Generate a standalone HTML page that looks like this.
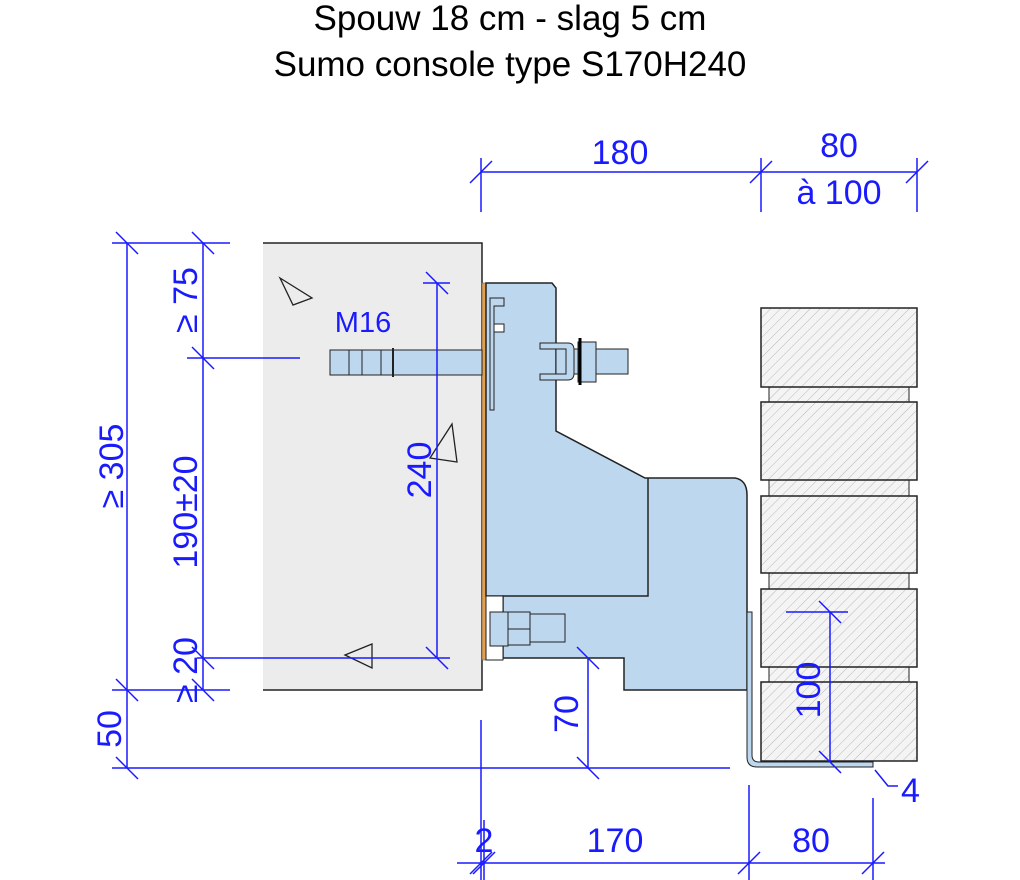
<!DOCTYPE html>
<html><head><meta charset="utf-8"><style>
html,body{margin:0;padding:0;background:#fff;}
svg{display:block;}
text{font-family:"Liberation Sans","DejaVu Sans",sans-serif;}
</style></head><body>
<svg width="1020" height="880" viewBox="0 0 1020 880" xmlns="http://www.w3.org/2000/svg">
<defs>
<pattern id="h" width="7" height="7" patternUnits="userSpaceOnUse" patternTransform="rotate(45)">
<rect width="7" height="7" fill="#f4f4f4"/><line x1="0" y1="0" x2="0" y2="7" stroke="#b8b8b8" stroke-width="1"/>
</pattern>
</defs>
<text x="510" y="30" font-size="35" text-anchor="middle" fill="#000">Spouw 18 cm - slag 5 cm</text>
<text x="510" y="76" font-size="35" text-anchor="middle" fill="#000">Sumo console type S170H240</text>

<rect x="263" y="243" width="219" height="447" fill="#ececec"/>
<path d="M263 243 H482 V690 H263" fill="none" stroke="#222" stroke-width="1.5"/>
<rect x="482" y="283" width="4" height="377" fill="#e0a050" stroke="#555" stroke-width="0.5"/>

<path d="M486 283 H552 L556 288 V431 L645 478 H735 Q747 480 747 495 V690 H624 V658 H503 V596 H486 Z" fill="#bdd7ee" stroke="#222" stroke-width="1.5"/>
<path d="M503 596 H648 V478" fill="none" stroke="#222" stroke-width="1.5"/>
<rect x="486" y="596" width="17" height="64" fill="#fff" stroke="#222" stroke-width="1"/>
<path d="M490 298 H504 V306 H494 V410 H490 Z" fill="#bdd7ee" stroke="#222" stroke-width="1"/>
<rect x="494" y="324" width="10" height="8" fill="#fff" stroke="#222" stroke-width="1"/>

<rect x="330" y="350" width="152" height="25" fill="#bdd7ee" stroke="#222" stroke-width="1"/>
<line x1="349" y1="350" x2="349" y2="375" stroke="#222"/><line x1="362" y1="350" x2="362" y2="375" stroke="#222"/><line x1="381" y1="350" x2="381" y2="375" stroke="#222"/><line x1="393" y1="348" x2="393" y2="377" stroke="#222" stroke-width="2"/>
<rect x="556" y="349" width="72" height="25" fill="#bdd7ee" stroke="#222" stroke-width="1"/>
<path d="M540 343 H568 Q574 343 574 350 V373 Q574 380 568 380 H540 V374 H566 V349 H540 Z" fill="#bdd7ee" stroke="#222" stroke-width="1"/>
<rect x="578" y="342" width="18" height="40" fill="#bdd7ee" stroke="#222" stroke-width="1"/>
<line x1="580" y1="338" x2="580" y2="385" stroke="#000" stroke-width="3"/>

<rect x="490" y="612" width="18" height="34" fill="#bdd7ee" stroke="#222"/>
<rect x="508" y="614" width="57" height="28" fill="#bdd7ee" stroke="#222"/>
<rect x="508" y="612" width="22" height="33" fill="#bdd7ee" stroke="#222"/>
<line x1="508" y1="629" x2="530" y2="629" stroke="#222"/>

<path d="M747 612 H752 V755 Q752 762 759 762 H873 V767 H757 Q747 767 747 757 Z" fill="#bdd7ee" stroke="#222" stroke-width="1"/>

<g stroke="#222" stroke-width="1.5" fill="url(#h)">
<rect x="769" y="387" width="140" height="15" stroke-width="1"/>
<rect x="769" y="480" width="140" height="16" stroke-width="1"/>
<rect x="769" y="573" width="140" height="16" stroke-width="1"/>
<rect x="769" y="667" width="140" height="15" stroke-width="1"/>
<rect x="761" y="308" width="156" height="79"/>
<rect x="761" y="402" width="156" height="78"/>
<rect x="761" y="496" width="156" height="77"/>
<rect x="761" y="589" width="156" height="78"/>
<rect x="761" y="682" width="156" height="79"/>
</g>

<g fill="none" stroke="#222" stroke-width="1.3">
<path d="M280 278 L312 298 L293 305 Z"/>
<path d="M452 424 L457 462 L430 458 Z"/>
<path d="M345 655 L372 644 L372 668 Z"/>
</g>

<g stroke="#1a1aff" stroke-width="1.5" fill="none">
<line x1="481" y1="172" x2="917" y2="172"/>
<line x1="481" y1="158" x2="481" y2="212"/><line x1="761" y1="158" x2="761" y2="212"/><line x1="917" y1="158" x2="917" y2="212"/>
<line x1="470" y1="183" x2="492" y2="161"/><line x1="750" y1="183" x2="772" y2="161"/><line x1="906" y1="183" x2="928" y2="161"/>
<line x1="127" y1="243" x2="127" y2="768"/>
<line x1="203" y1="243" x2="203" y2="690"/>
<line x1="112" y1="243" x2="230" y2="243"/>
<line x1="187" y1="358" x2="300" y2="358"/>
<line x1="197" y1="658" x2="450" y2="658"/>
<line x1="112" y1="690" x2="230" y2="690"/>
<line x1="112" y1="768" x2="730" y2="768"/>
<line x1="116" y1="232" x2="138" y2="254"/><line x1="192" y1="232" x2="214" y2="254"/>
<line x1="192" y1="347" x2="214" y2="369"/><line x1="192" y1="647" x2="214" y2="669"/>
<line x1="116" y1="679" x2="138" y2="701"/><line x1="192" y1="679" x2="214" y2="701"/>
<line x1="116" y1="757" x2="138" y2="779"/>
<line x1="437" y1="283" x2="437" y2="658"/>
<line x1="423" y1="283" x2="450" y2="283"/>
<line x1="426" y1="272" x2="448" y2="294"/><line x1="426" y1="647" x2="448" y2="669"/>
<line x1="588" y1="658" x2="588" y2="768"/>
<line x1="577" y1="647" x2="599" y2="669"/><line x1="577" y1="757" x2="599" y2="779"/>
<line x1="830" y1="612" x2="830" y2="762"/>
<line x1="786" y1="612" x2="848" y2="612"/>
<line x1="819" y1="601" x2="841" y2="623"/><line x1="819" y1="751" x2="841" y2="773"/>
<line x1="457" y1="863" x2="885" y2="863"/>
<line x1="481" y1="720" x2="481" y2="880"/><line x1="484" y1="820" x2="484" y2="880"/>
<line x1="749" y1="785" x2="749" y2="880"/><line x1="873" y1="798" x2="873" y2="880"/>
<line x1="470" y1="874" x2="492" y2="852"/><line x1="473" y1="874" x2="495" y2="852"/>
<line x1="738" y1="874" x2="760" y2="852"/><line x1="862" y1="874" x2="884" y2="852"/>
<path d="M875 770 L888 786 H898"/>
</g>

<g fill="#1a1aff" font-size="34">
<text x="620" y="164" text-anchor="middle">180</text>
<text x="839" y="157" text-anchor="middle">80</text>
<text x="839" y="204" text-anchor="middle">à 100</text>
<text x="363" y="332" text-anchor="middle" font-size="29">M16</text>
<text x="901" y="802">4</text>
<text x="484" y="852" text-anchor="middle">2</text>
<text x="615" y="852" text-anchor="middle">170</text>
<text x="811" y="852" text-anchor="middle">80</text>
<text transform="translate(123,466) rotate(-90)" text-anchor="middle">≥ 305</text>
<text transform="translate(197,512) rotate(-90)" text-anchor="middle">190±20</text>
<text transform="translate(197,300) rotate(-90)" text-anchor="middle">≥ 75</text>
<text transform="translate(197,670) rotate(-90)" text-anchor="middle">≥ 20</text>
<text transform="translate(121,729) rotate(-90)" text-anchor="middle">50</text>
<text transform="translate(431,470) rotate(-90)" text-anchor="middle">240</text>
<text transform="translate(578,714) rotate(-90)" text-anchor="middle">70</text>
<text transform="translate(820,690) rotate(-90)" text-anchor="middle">100</text>
</g>
</svg>
</body></html>
